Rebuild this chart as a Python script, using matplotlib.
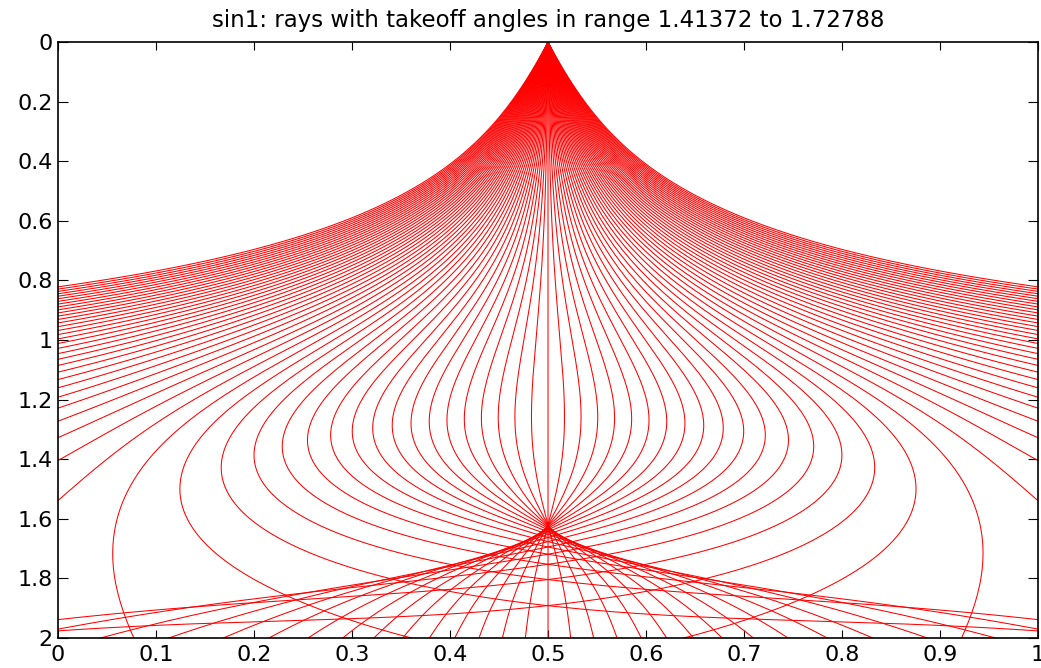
import numpy as np
import matplotlib
matplotlib.use("Agg")
import matplotlib.pyplot as plt

# ---- data ----
angle_min = 1.41372            # takeoff angle range (radians), from the title
angle_max = 1.72788
n_rays = 101
source_x, source_z = 0.5, 0.0
# velocity model "sin1": v(x,z) = 1 + sin(pi*z/depth_period) * (bias - amp*cos(2*pi*x))
amp = 0.40
bias = 0.10
depth_period = 1.05
x_ticks = [0, 0.1, 0.2, 0.3, 0.4, 0.5, 0.6, 0.7, 0.8, 0.9, 1]
x_tick_labels = ['0', '0.1', '0.2', '0.3', '0.4', '0.5', '0.6', '0.7', '0.8', '0.9', '1']
z_ticks = [0, 0.2, 0.4, 0.6, 0.8, 1, 1.2, 1.4, 1.6, 1.8, 2]
z_tick_labels = ['0', '0.2', '0.4', '0.6', '0.8', '1', '1.2', '1.4', '1.6', '1.8', '2']

angles = np.linspace(angle_min, angle_max, n_rays)


def rhs(Y):
    x, z, px, pz = Y
    k = np.pi / depth_period
    s, co = np.sin(k * z), np.cos(k * z)
    g = bias - amp * np.cos(2 * np.pi * x)
    v = 1 + s * g
    vx = s * 2 * np.pi * amp * np.sin(2 * np.pi * x)
    vz = k * co * g
    return np.array([v * px, v * pz, -vx / v**2, -vz / v**2])


def trace_all(ds=0.015, nsteps=400):
    Y = np.array([np.full(n_rays, source_x), np.full(n_rays, source_z),
                  np.cos(angles), np.sin(angles)])
    alive = np.ones(n_rays, bool)
    X, Z, A = [Y[0].copy()], [Y[1].copy()], [alive.copy()]
    for _ in range(nsteps):
        k1 = rhs(Y); k2 = rhs(Y + ds / 2 * k1); k3 = rhs(Y + ds / 2 * k2); k4 = rhs(Y + ds * k3)
        Yn = Y + ds / 6 * (k1 + 2 * k2 + 2 * k3 + k4)
        Y = np.where(alive, Yn, Y)
        X.append(Y[0].copy()); Z.append(Y[1].copy()); A.append(alive.copy())
        alive &= ~((Y[0] < 0) | (Y[0] > 1) | (Y[1] > 2) | (Y[1] < 0))
        if not alive.any():
            break
    return np.array(X), np.array(Z), np.array(A)


X, Z, A = trace_all()

fig = plt.figure(figsize=(10.41, 6.68), dpi=100)
ax = fig.add_axes([58 / 1041, 1 - 638 / 668, 980 / 1041, 596 / 668])
for i in range(n_rays):
    m = A[:, i]
    ax.plot(X[m, i], Z[m, i], color='red', lw=0.75)
ax.set_xlim(0, 1)
ax.set_ylim(2, 0)
ax.set_xticks(x_ticks)
ax.set_xticklabels(x_tick_labels)
ax.set_yticks(z_ticks)
ax.set_yticklabels(z_tick_labels)
for lab in ax.get_xticklabels() + ax.get_yticklabels():
    lab.set_family(['DejaVu Sans'])
ax.tick_params(direction='in', width=0.8, top=True, right=True, labelsize=16)
ax.tick_params(axis='x', length=5.5, pad=5)
ax.tick_params(axis='y', length=7.5, pad=4)
for s in ax.spines.values():
    s.set_linewidth(1.2)
ax.set_title(f'sin1: rays with takeoff angles in range {angle_min} to {angle_max}',
             fontsize=16.5, family=['DejaVu Sans'], pad=11)
fig.savefig('out.png')
